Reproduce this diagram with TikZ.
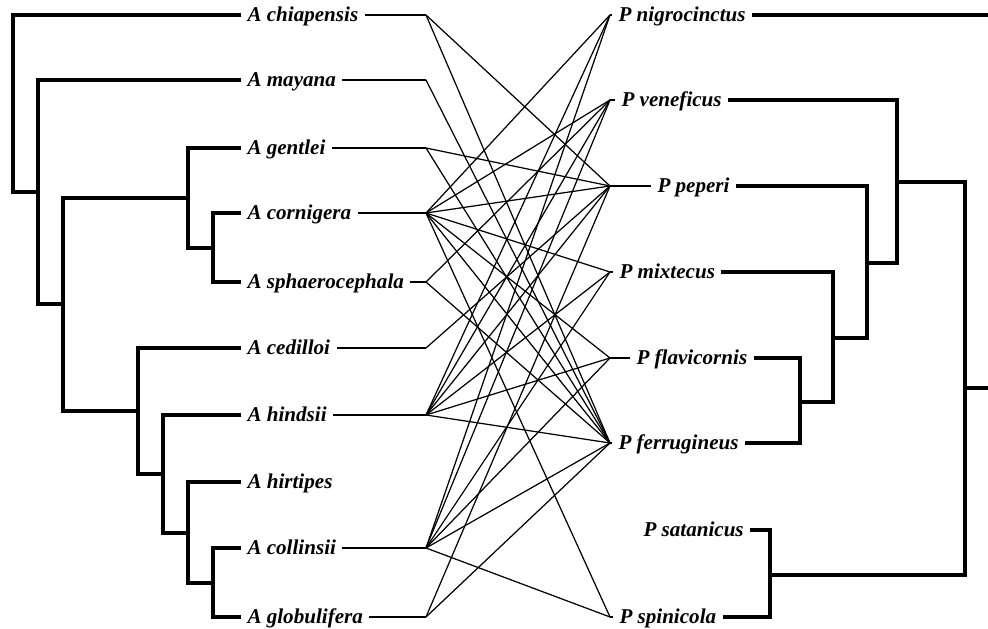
\documentclass[tikz,border=0pt]{standalone}
\usepackage{fontspec}
\setmainfont{Liberation Serif}
\usepackage{tikz}
\usetikzlibrary{positioning}

\begin{document}
\begin{tikzpicture}[
x=0.2mm, y=-0.2mm,
leaf/.style={
inner ysep=1.5pt,
inner xsep=3.5pt,
font=\fontsize{12}{14}\selectfont\bfseries\itshape,
text height=2ex,
text depth=0.5ex
},
tree/.style={line width=2.1pt},
link/.style={line width=0.7pt}
]
\useasboundingbox (0,0) rectangle (988,629);

% Acacia leaves
\node[leaf, anchor=west] (chiapensis) at (241,15) {A chiapensis};
\node[leaf, anchor=west] (mayana) at (241,80) {A mayana};
\node[leaf, anchor=west] (gentlei) at (241,148) {A gentlei};
\node[leaf, anchor=west] (cornigera) at (241,213) {A cornigera};
\node[leaf, anchor=west] (sphaerocephala) at (241,282) {A sphaerocephala};
\node[leaf, anchor=west] (cedilloi) at (241,348) {A cedilloi};
\node[leaf, anchor=west] (hindsii) at (241,415) {A hindsii};
\node[leaf, anchor=west] (hirtipes) at (241,482) {A hirtipes};
\node[leaf, anchor=west] (collinsii) at (241,548) {A collinsii};
\node[leaf, anchor=west] (globulifera) at (241,617) {A globulifera};

% Pseudomyrmex leaves
\node[leaf, anchor=west] (nigrocinctus) at (612,15) {P nigrocinctus};
\node[leaf, anchor=west] (veneficus) at (615,100) {P veneficus};
\node[leaf, anchor=west] (peperi) at (651,186) {P peperi};
\node[leaf, anchor=west] (mixtecus) at (613,272) {P mixtecus};
\node[leaf, anchor=west] (flavicornis) at (630,358) {P flavicornis};
\node[leaf, anchor=west] (ferrugineus) at (612,443) {P ferrugineus};
\node[leaf, anchor=west] (satanicus) at (637,530) {P satanicus};
\node[leaf, anchor=west] (spinicola) at (613,617) {P spinicola};

% link ends
\coordinate (chiapensis-x) at (426,15);
\coordinate (mayana-x) at (426,80);
\coordinate (gentlei-x) at (426,148);
\coordinate (cornigera-x) at (426,213);
\coordinate (sphaerocephala-x) at (426,282);
\coordinate (cedilloi-x) at (426,348);
\coordinate (hindsii-x) at (426,415);
\coordinate (collinsii-x) at (426,548);
\coordinate (globulifera-x) at (426,617);

\coordinate (nigrocinctus-x) at (610,15);
\coordinate (veneficus-x) at (610,100);
\coordinate (peperi-x) at (610,186);
\coordinate (mixtecus-x) at (610,272);
\coordinate (flavicornis-x) at (610,358);
\coordinate (ferrugineus-x) at (610,443);
\coordinate (spinicola-x) at (610,617);

% Acacia tree
\coordinate (a0) at (13,103);
\coordinate (a1) at (38,192);
\coordinate (a2) at (63,304);
\coordinate (a3) at (188,198);
\coordinate (a4) at (213,248);
\coordinate (a5) at (138,411);
\coordinate (a6) at (163,474);
\coordinate (a7) at (188,533);
\coordinate (a8) at (213,583);

\draw[tree] (a0) |- (chiapensis.west);
\draw[tree] (a0) |- (a1);
\draw[tree] (a1) |- (mayana.west);
\draw[tree] (a1) |- (a2);
\draw[tree] (a2) |- (a3);
\draw[tree] (a2) |- (a5);
\draw[tree] (a3) |- (gentlei.west);
\draw[tree] (a3) |- (a4);
\draw[tree] (a4) |- (cornigera.west);
\draw[tree] (a4) |- (sphaerocephala.west);
\draw[tree] (a5) |- (cedilloi.west);
\draw[tree] (a5) |- (a6);
\draw[tree] (a6) |- (hindsii.west);
\draw[tree] (a6) |- (a7);
\draw[tree] (a7) |- (hirtipes.west);
\draw[tree] (a7) |- (a8);
\draw[tree] (a8) |- (collinsii.west);
\draw[tree] (a8) |- (globulifera.west);

% Pseudomyrmex tree
\coordinate (root) at (988,196);
\coordinate (p0) at (965,388);
\coordinate (p1) at (897,182);
\coordinate (p2) at (867,263);
\coordinate (p3) at (833,338);
\coordinate (p4) at (800,402);
\coordinate (p6) at (770,575);

\draw[tree] (nigrocinctus.east) -- (nigrocinctus.east -| root);
\draw[tree] (p0) -- (p0 -| root);
\draw[tree] (p0) |- (p1);
\draw[tree] (p0) |- (p6);
\draw[tree] (p1) |- (veneficus.east);
\draw[tree] (p1) |- (p2);
\draw[tree] (p2) |- (peperi.east);
\draw[tree] (p2) |- (p3);
\draw[tree] (p3) |- (mixtecus.east);
\draw[tree] (p3) |- (p4);
\draw[tree] (p4) |- (flavicornis.east);
\draw[tree] (p4) |- (ferrugineus.east);
\draw[tree] (p6) |- (satanicus.east);
\draw[tree] (p6) |- (spinicola.east);

% stubs
\draw[link] (chiapensis) -- (chiapensis-x);
\draw[link] (mayana) -- (mayana-x);
\draw[link] (gentlei) -- (gentlei-x);
\draw[link] (cornigera) -- (cornigera-x);
\draw[link] (sphaerocephala) -- (sphaerocephala-x);
\draw[link] (cedilloi) -- (cedilloi-x);
\draw[link] (hindsii) -- (hindsii-x);
\draw[link] (collinsii) -- (collinsii-x);
\draw[link] (globulifera) -- (globulifera-x);

\draw[link] (nigrocinctus-x) -- (nigrocinctus);
\draw[link] (veneficus-x) -- (veneficus);
\draw[link] (peperi-x) -- (peperi);
\draw[link] (mixtecus-x) -- (mixtecus);
\draw[link] (flavicornis-x) -- (flavicornis);
\draw[link] (ferrugineus-x) -- (ferrugineus);
\draw[link] (spinicola-x) -- (spinicola);

% associations
\draw[link] (chiapensis-x) -- (peperi-x);
\draw[link] (chiapensis-x) -- (ferrugineus-x);
\draw[link] (mayana-x) -- (ferrugineus-x);
\draw[link] (gentlei-x) -- (peperi-x);
\draw[link] (gentlei-x) -- (ferrugineus-x);
\draw[link] (cornigera-x) -- (nigrocinctus-x);
\draw[link] (cornigera-x) -- (veneficus-x);
\draw[link] (cornigera-x) -- (peperi-x);
\draw[link] (cornigera-x) -- (mixtecus-x);
\draw[link] (cornigera-x) -- (flavicornis-x);
\draw[link] (cornigera-x) -- (ferrugineus-x);
\draw[link] (cornigera-x) -- (spinicola-x);
\draw[link] (sphaerocephala-x) -- (veneficus-x);
\draw[link] (sphaerocephala-x) -- (ferrugineus-x);
\draw[link] (cedilloi-x) -- (peperi-x);
\draw[link] (hindsii-x) -- (nigrocinctus-x);
\draw[link] (hindsii-x) -- (veneficus-x);
\draw[link] (hindsii-x) -- (peperi-x);
\draw[link] (hindsii-x) -- (mixtecus-x);
\draw[link] (hindsii-x) -- (flavicornis-x);
\draw[link] (hindsii-x) -- (ferrugineus-x);
\draw[link] (collinsii-x) -- (nigrocinctus-x);
\draw[link] (collinsii-x) -- (veneficus-x);
\draw[link] (collinsii-x) -- (mixtecus-x);
\draw[link] (collinsii-x) -- (flavicornis-x);
\draw[link] (collinsii-x) -- (ferrugineus-x);
\draw[link] (collinsii-x) -- (spinicola-x);
\draw[link] (globulifera-x) -- (peperi-x);
\draw[link] (globulifera-x) -- (ferrugineus-x);

\end{tikzpicture}
\end{document}
